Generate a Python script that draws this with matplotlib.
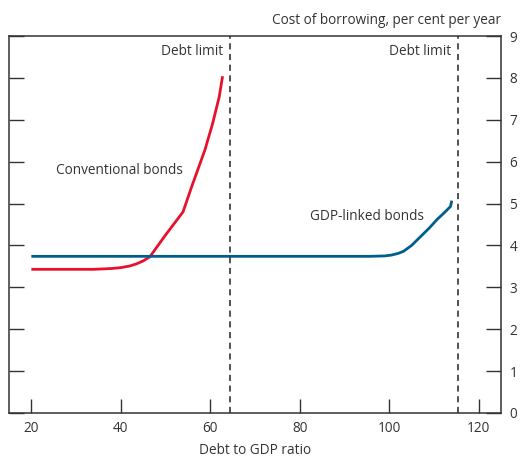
import numpy as np
from matplotlib import pyplot as plt

# data
conv_x = [20, 25, 30, 34, 36, 38, 40, 42, 43.5, 45, 46.5, 50, 53.9, 56, 58.8, 60.5, 62, 62.75]
conv_y = [3.43, 3.43, 3.43, 3.43, 3.44, 3.45, 3.47, 3.51, 3.56, 3.63, 3.73, 4.25, 4.8, 5.45, 6.28, 6.9, 7.55, 8.04]

gdp_x = [20, 40, 60, 80, 95.8, 99, 100.5, 102, 103.2, 105, 107, 109, 110.7, 112.5, 113.7, 114.0]
gdp_y = [3.74, 3.74, 3.74, 3.74, 3.74, 3.75, 3.77, 3.81, 3.86, 4.0, 4.21, 4.42, 4.62, 4.8, 4.93, 5.07]

debt_limits = [64.3, 115.3]
xticks = [20, 40, 60, 80, 100, 120]
yticks = [0, 1, 2, 3, 4, 5, 6, 7, 8, 9]

plt.rcParams['font.family'] = ['Open Sans', 'DejaVu Sans']
txt = '#333333'
edge = '#333333'
fs = 9.8

fig = plt.figure(figsize=(5.2, 4.57), dpi=100)
ax = fig.add_axes([0.0173, 0.0963, 0.9462, 0.8249])

ax.plot(conv_x, conv_y, color='#e8112d', lw=2.0, solid_capstyle='butt')
ax.plot(gdp_x, gdp_y, color='#005e8f', lw=2.0, solid_capstyle='butt')
for d in debt_limits:
    ax.axvline(d, color='#222222', lw=1.1, ls=(0, (4, 3)))
    ax.text(d - 1.5, 8.62, 'Debt limit', ha='right', va='center', fontsize=fs, color=txt)

ax.text(39.7, 5.8, 'Conventional bonds', ha='center', va='center', fontsize=fs, color=txt)
ax.text(95.1, 4.68, 'GDP-linked bonds', ha='center', va='center', fontsize=fs, color=txt)

ax.set_xlim(15, 125)
ax.set_ylim(0, 9)
ax.set_xticks(xticks)
ax.set_yticks(yticks)
ax.tick_params(axis='y', left=True, right=True, labelleft=False, labelright=True,
               direction='in', length=11, width=1, color=edge, labelsize=fs,
               labelcolor=txt, pad=6)
ax.tick_params(axis='x', direction='in', length=10, width=1, color=edge,
               labelsize=fs, labelcolor=txt, pad=6)
for s in ax.spines.values():
    s.set_color(edge)
    s.set_linewidth(1.1)

ax.set_xlabel('Debt to GDP ratio', fontsize=fs, color=txt, labelpad=5)
fig.text(0.9635, 0.955, 'Cost of borrowing, per cent per year', ha='right', va='center',
         fontsize=fs, color=txt)

plt.savefig('out.png')
